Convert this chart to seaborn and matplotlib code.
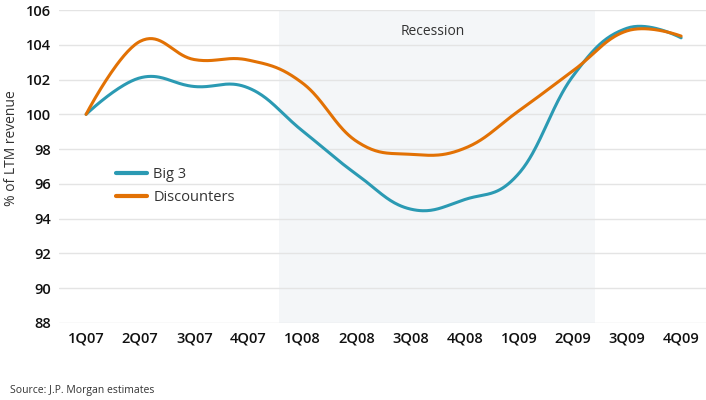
import numpy as np
import pandas as pd
import matplotlib
matplotlib.use("Agg")
import matplotlib.pyplot as plt
import seaborn as sns

quarters = ["1Q07", "2Q07", "3Q07", "4Q07", "1Q08", "2Q08", "3Q08", "4Q08",
            "1Q09", "2Q09", "3Q09", "4Q09"]
big3 = [100.0, 102.1, 101.6, 101.52, 99.05, 96.55, 94.55, 95.1,
        96.6, 102.2, 104.95, 104.4]
discounters = [100.0, 104.2, 103.15, 103.12, 101.8, 98.45, 97.7, 98.05,
               100.2, 102.5, 104.8, 104.5]
series_names = ["Big 3", "Discounters"]
y_ticks = [88, 90, 92, 94, 96, 98, 100, 102, 104, 106]
recession_span = (3.56, 9.4)

colors = {"Big 3": "#2b9ab3", "Discounters": "#e27104"}


def spline_path(xs, ys, n=40, smoothing=1.5):
    """Smooth spline through the given points (control points, no clamping)."""
    xs = np.asarray(xs, float)
    ys = np.asarray(ys, float)
    m = len(xs)
    left = [None] * m
    right = [None] * m
    for i in range(m):
        x, y = xs[i], ys[i]
        if i == 0 or i == m - 1:
            left[i] = (x, y)
            right[i] = (x, y)
            continue
        lx, ly = xs[i - 1], ys[i - 1]
        nx, ny = xs[i + 1], ys[i + 1]
        d = smoothing + 1
        lcx = (smoothing * x + lx) / d
        lcy = (smoothing * y + ly) / d
        rcx = (smoothing * x + nx) / d
        rcy = (smoothing * y + ny) / d
        corr = ((rcy - lcy) * (rcx - x)) / (rcx - lcx) + y - rcy
        left[i] = (lcx, lcy + corr)
        right[i] = (rcx, rcy + corr)
    outx, outy = [xs[0]], [ys[0]]
    t = np.linspace(0, 1, n)[1:]
    for i in range(1, m):
        p0 = np.array([xs[i - 1], ys[i - 1]])
        p1 = np.array(right[i - 1])
        p2 = np.array(left[i])
        p3 = np.array([xs[i], ys[i]])
        pts = ((1 - t) ** 3)[:, None] * p0 + (3 * (1 - t) ** 2 * t)[:, None] * p1 \
            + (3 * (1 - t) * t ** 2)[:, None] * p2 + (t ** 3)[:, None] * p3
        outx.extend(pts[:, 0])
        outy.extend(pts[:, 1])
    return np.array(outx), np.array(outy)


sns.set_theme(style="white")
plt.rcParams["font.family"] = ["Open Sans", "DejaVu Sans"]

fig = plt.figure(figsize=(7.06, 4.0), dpi=100)
ax = fig.add_axes([0.0836, 0.1925, 0.9164, 0.7825])

idx = np.arange(len(quarters))
frames = []
for name, vals in zip(series_names, [big3, discounters]):
    sx, sy = spline_path(idx, vals)
    frames.append(pd.DataFrame({"x": sx, "y": sy, "series": name}))
df = pd.concat(frames, ignore_index=True)

ax.axvspan(*recession_span, color="#f4f6f8", zorder=0, lw=0)
for yt in y_ticks:
    ax.axhline(yt, color="#e4e4e4", lw=1, zorder=1)

sns.lineplot(data=df, x="x", y="y", hue="series", palette=colors, sort=False,
             estimator=None, lw=2.2, ax=ax, zorder=3)

ax.set_xlim(-0.5, 11.46)
ax.set_ylim(88, 106)
ax.set_xticks(idx)
ax.set_xticklabels(quarters)
ax.set_yticks(y_ticks)
ax.set_yticklabels([str(v) for v in y_ticks])
for lab in ax.get_xticklabels() + ax.get_yticklabels():
    lab.set_fontweight("semibold")
    lab.set_fontsize(10.5)
    lab.set_color("#111111")
ax.tick_params(axis="both", length=0, pad=6)
ax.set_xlabel("")
ax.set_ylabel("% of LTM revenue", fontsize=10, color="#333333")
ax.yaxis.set_label_coords(-0.062, 0.56)
for s in ax.spines.values():
    s.set_visible(False)

ax.text(np.mean(recession_span) - 0.08, 104.75, "Recession", ha="center", va="center",
        fontsize=10, color="#333333")

leg = ax.legend(loc="upper left", bbox_to_anchor=(0.068, 0.54), frameon=False,
                fontsize=10.5, handlelength=2.1, handletextpad=0.45,
                labelspacing=0.55)
for t in leg.get_texts():
    t.set_color("#333333")
for h in leg.get_lines():
    h.set_linewidth(3)

fig.text(0.014, 0.025, "Source: J.P. Morgan estimates", fontsize=7.5,
         color="#333333", ha="left", va="center")

fig.savefig("out.png", dpi=100)
